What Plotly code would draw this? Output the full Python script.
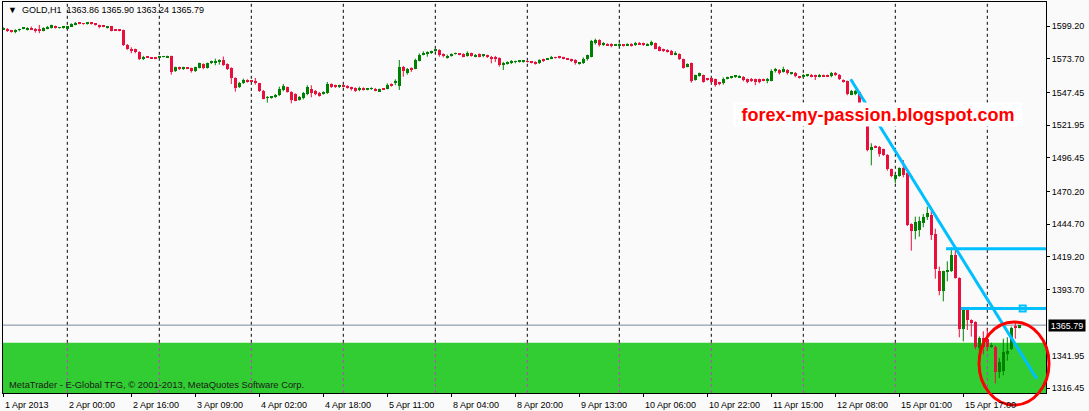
import numpy as np
import plotly.graph_objects as go

# ---------------- data (GOLD H1) ----------------
open_ = [
1596.8,1597.3,1595.8,1594.7,1596.3,1597.3,1596.3,1597.8,1596.8,1596.8,
1595.8,1597.3,1597.8,1599.4,1597.8,1597.8,1597.6,1598.9,1600.4,1601.7,
1601.5,1601.0,1602.3,1601.0,1600.2,1599.4,1597.8,1599.1,1596.5,1596.3,
1596.3,1584.8,1581.7,1581.2,1579.1,1573.4,1575.5,1574.9,1574.7,1574.9,
1575.2,1574.9,1576.0,1564.0,1567.4,1565.6,1566.9,1566.6,1564.5,1566.9,
1570.0,1566.3,1570.2,1570.8,1571.3,1572.8,1569.7,1566.6,1558.8,1551.5,
1554.6,1557.2,1556.7,1556.7,1554.6,1548.9,1543.2,1543.2,1543.7,1545.3,
1549.4,1551.5,1547.9,1546.3,1541.6,1543.2,1546.3,1550.5,1548.9,1547.3,
1546.3,1547.3,1554.1,1553.1,1551.5,1553.6,1552.5,1551.5,1551.0,1549.4,
1551.0,1549.4,1550.2,1550.5,1548.4,1550.5,1550.5,1554.1,1555.1,1552.5,
1567.1,1562.4,1566.1,1566.1,1572.3,1577.0,1578.0,1578.0,1580.1,1580.7,
1577.0,1574.9,1576.0,1577.5,1577.5,1577.5,1576.0,1578.0,1575.4,1577.5,
1576.5,1576.5,1575.4,1575.4,1574.4,1569.2,1570.2,1570.8,1571.3,1571.3,
1571.5,1571.8,1571.5,1571.3,1570.2,1573.4,1573.4,1573.9,1574.9,1575.4,
1574.9,1573.9,1573.4,1572.8,1569.7,1570.2,1573.4,1575.4,1585.9,1588.5,
1584.8,1585.3,1585.3,1584.3,1584.3,1584.8,1584.3,1585.3,1584.3,1585.9,
1585.9,1584.3,1584.8,1585.9,1583.3,1581.2,1580.7,1580.1,1577.0,1577.5,
1573.4,1567.6,1570.2,1557.2,1560.4,1560.9,1558.3,1558.8,1557.7,1555.1,
1554.6,1558.3,1558.8,1559.8,1559.3,1559.8,1557.7,1558.3,1557.7,1557.7,
1557.5,1556.2,1556.7,1564.0,1565.0,1563.5,1565.0,1561.9,1563.0,1559.8,
1559.8,1560.9,1561.4,1560.9,1559.8,1560.9,1560.9,1560.3,1562.4,1561.4,
1557.2,1556.2,1545.8,1546.3,1547.5,1530.0,1528.0,1502.6,1505.7,1505.2,
1503.1,1498.9,1487.5,1479.6,1482.3,1488.5,1484.9,1444.8,1439.6,1440.1,
1445.8,1450.0,1451.5,1437.0,1408.3,1392.7,1407.3,1407.8,1420.8,1402.6,
1363.0,1378.1,1369.8,1368.2,1347.7,1355.5,1355.0,1349.0,1349.0,1329.5,
1329.7,1343.0,1346.9,1364.5,1363.86]

high = [
1598.4,1597.8,1596.3,1596.8,1597.3,1598.4,1598.4,1598.9,1597.8,1600.2,
1598.4,1599.4,1600.4,1599.7,1598.6,1598.9,1599.4,1601.5,1602.5,1602.3,
1601.7,1602.5,1602.5,1601.5,1600.4,1600.2,1599.4,1599.4,1596.8,1596.8,
1596.5,1585.3,1582.7,1581.7,1579.6,1576.0,1575.7,1575.2,1575.2,1576.0,
1576.0,1576.2,1576.2,1567.6,1567.6,1567.6,1567.1,1566.9,1567.6,1570.8,
1570.2,1570.8,1572.3,1573.9,1573.4,1575.5,1570.2,1567.1,1559.3,1555.7,
1558.3,1557.8,1557.2,1558.8,1554.9,1549.4,1544.7,1544.7,1546.3,1552.0,
1554.1,1552.0,1548.4,1546.8,1544.7,1547.9,1553.1,1553.1,1549.4,1547.9,
1548.4,1555.7,1554.6,1553.6,1553.6,1554.1,1553.1,1552.0,1551.5,1552.0,
1551.5,1551.0,1551.5,1551.0,1550.5,1551.0,1554.6,1554.6,1557.7,1572.8,
1568.2,1566.6,1567.1,1573.9,1578.0,1579.6,1579.6,1580.1,1581.7,1581.2,
1578.0,1577.0,1578.0,1578.6,1577.8,1578.0,1579.6,1578.6,1577.5,1578.0,
1577.5,1577.0,1576.0,1576.0,1574.9,1571.3,1571.8,1572.8,1572.3,1572.8,
1572.3,1572.3,1571.8,1571.8,1573.4,1573.9,1574.4,1576.0,1575.4,1576.0,
1575.4,1574.4,1573.9,1573.4,1571.3,1574.9,1577.0,1588.5,1589.5,1589.0,
1586.9,1585.9,1585.9,1584.8,1585.9,1585.3,1585.9,1585.9,1586.9,1586.9,
1586.4,1585.9,1587.9,1586.4,1583.8,1581.7,1581.2,1580.7,1579.6,1578.0,
1573.9,1570.2,1570.8,1561.4,1563.0,1561.4,1558.8,1559.3,1558.3,1555.7,
1559.3,1559.8,1560.3,1560.9,1560.9,1560.3,1558.3,1558.8,1558.3,1558.3,
1558.3,1558.8,1565.6,1566.6,1565.6,1567.6,1565.6,1563.5,1563.5,1560.3,
1561.9,1561.9,1561.9,1561.4,1561.9,1561.4,1561.4,1563.5,1563.5,1561.9,
1557.7,1556.7,1549.4,1549.4,1548.0,1532.0,1529.0,1507.8,1506.2,1505.7,
1503.6,1499.4,1488.0,1484.3,1489.0,1494.7,1485.4,1445.3,1450.5,1450.5,
1452.6,1458.3,1455.2,1441.1,1411.5,1408.3,1415.6,1426.5,1424.5,1403.1,
1378.6,1378.6,1370.3,1368.8,1357.0,1361.0,1363.0,1352.0,1350.0,1340.1,
1355.2,1356.3,1364.6,1367.7,1365.90]

low = [
1596.3,1594.7,1594.2,1593.7,1595.2,1596.8,1595.8,1596.3,1594.2,1593.7,
1595.2,1596.8,1597.3,1597.3,1597.3,1597.3,1597.0,1598.6,1599.9,1600.7,
1600.4,1600.4,1600.4,1599.7,1597.6,1598.4,1597.3,1595.2,1595.8,1595.2,
1583.8,1580.7,1578.1,1578.1,1572.8,1572.8,1574.4,1573.9,1573.4,1574.4,
1574.9,1574.4,1561.4,1563.5,1565.0,1565.0,1565.6,1563.0,1563.5,1566.3,
1565.6,1566.1,1569.7,1568.7,1569.2,1568.2,1565.0,1554.1,1548.1,1551.0,
1554.1,1555.1,1555.7,1553.6,1547.9,1542.1,1539.5,1542.6,1543.2,1544.7,
1548.4,1547.3,1539.0,1540.6,1541.1,1542.1,1545.3,1543.7,1545.3,1544.2,
1545.8,1546.3,1551.0,1551.0,1551.0,1551.5,1550.5,1548.9,1547.9,1548.4,
1548.9,1549.2,1549.4,1548.4,1547.9,1549.4,1549.9,1552.0,1553.1,1549.4,
1559.8,1561.4,1563.5,1565.6,1571.8,1576.5,1575.4,1577.5,1579.1,1575.4,
1574.9,1573.9,1575.4,1577.0,1576.5,1574.9,1575.4,1575.4,1574.9,1574.9,
1574.9,1574.4,1570.2,1571.3,1567.6,1565.0,1569.2,1569.7,1570.2,1570.8,
1570.8,1570.8,1570.2,1569.2,1569.7,1571.3,1572.8,1573.4,1573.9,1573.9,
1573.4,1572.8,1571.3,1569.2,1569.2,1569.7,1572.3,1574.9,1584.8,1583.3,
1583.8,1583.8,1582.7,1583.8,1583.3,1583.3,1583.8,1583.3,1583.8,1584.8,
1583.8,1583.8,1583.8,1581.2,1579.6,1579.1,1578.6,1576.5,1576.5,1572.8,
1566.1,1567.1,1555.1,1556.7,1559.8,1555.1,1556.7,1554.6,1552.0,1553.1,
1553.6,1557.7,1558.3,1558.8,1558.8,1556.2,1554.6,1555.7,1553.1,1554.6,
1556.2,1554.6,1556.2,1563.0,1561.4,1563.0,1561.4,1561.4,1559.3,1558.3,
1558.8,1559.8,1559.3,1557.2,1559.3,1559.8,1559.8,1559.3,1560.3,1557.2,
1555.1,1545.3,1545.3,1545.3,1524.5,1526.5,1501.5,1490.6,1504.1,1497.3,
1497.9,1486.4,1481.2,1476.5,1481.7,1481.2,1443.2,1423.9,1432.8,1434.9,
1442.2,1447.9,1432.3,1402.1,1389.1,1384.4,1400.0,1407.3,1402.1,1356.3,
1353.1,1362.0,1356.8,1346.9,1336.0,1343.0,1345.5,1348.0,1320.3,1324.5,
1326.6,1338.0,1346.4,1355.2,1363.24]

close = [
1597.8,1595.2,1594.7,1596.3,1596.8,1597.6,1597.8,1596.8,1595.2,1595.2,
1597.8,1598.9,1599.9,1597.8,1598.1,1598.6,1599.1,1601.0,1602.0,1601.2,
1601.0,1602.3,1600.7,1600.2,1598.4,1598.9,1599.1,1595.8,1596.0,1595.8,
1584.3,1581.7,1579.6,1579.1,1573.4,1575.5,1574.9,1574.1,1574.1,1575.5,
1575.7,1576.0,1563.5,1567.1,1565.6,1567.4,1566.3,1564.5,1567.1,1570.2,
1566.6,1570.2,1571.8,1572.3,1572.8,1569.2,1566.1,1558.8,1551.0,1554.6,
1557.2,1555.7,1556.2,1554.6,1548.9,1542.6,1543.7,1544.2,1545.3,1550.5,
1552.5,1547.9,1541.6,1541.1,1543.7,1546.8,1552.0,1547.3,1546.3,1544.7,
1547.3,1554.1,1552.0,1552.0,1553.1,1552.5,1551.5,1549.9,1548.9,1551.0,
1549.4,1550.5,1550.5,1548.9,1549.9,1549.9,1553.6,1552.5,1555.7,1567.1,
1564.0,1566.1,1565.6,1572.8,1577.0,1578.6,1578.3,1579.6,1580.7,1576.5,
1576.5,1576.0,1577.5,1577.8,1577.0,1575.4,1578.6,1576.0,1577.0,1575.4,
1576.7,1574.9,1573.9,1573.9,1569.2,1570.8,1571.3,1571.8,1571.5,1572.1,
1571.8,1571.3,1570.8,1569.7,1572.8,1571.8,1574.1,1575.4,1574.4,1574.4,
1573.9,1573.4,1571.8,1570.2,1570.8,1573.9,1576.5,1587.4,1588.5,1584.3,
1585.1,1584.3,1583.8,1584.6,1584.8,1583.8,1585.3,1583.8,1586.4,1585.3,
1584.3,1585.3,1586.9,1581.7,1580.1,1579.6,1579.1,1577.0,1578.6,1573.4,
1566.6,1569.7,1556.2,1560.9,1562.4,1555.7,1557.2,1555.7,1553.1,1554.1,
1558.3,1559.3,1559.8,1560.1,1560.3,1557.2,1555.7,1556.7,1555.7,1556.2,
1557.0,1558.3,1564.5,1565.6,1563.0,1566.1,1563.0,1563.0,1560.3,1559.3,
1560.9,1561.1,1560.3,1559.8,1561.4,1560.3,1560.3,1563.0,1561.4,1558.3,
1556.2,1546.3,1548.9,1548.9,1530.0,1528.0,1502.6,1505.2,1504.6,1499.4,
1498.4,1487.5,1482.3,1482.8,1488.5,1483.3,1443.7,1439.6,1446.3,1446.8,
1450.0,1453.1,1435.9,1409.9,1392.7,1407.8,1408.3,1420.3,1402.6,1363.0,
1378.1,1369.8,1367.2,1348.5,1355.5,1349.0,1348.5,1350.0,1329.2,1337.2,
1344.8,1345.9,1363.9,1363.9,1365.79]

# time-axis labels (every 16 bars) and day separators (every 23 bars)
time_label_bars = [0, 16, 32, 48, 64, 80, 96, 112, 128, 144, 160, 176, 192, 208, 224, 240]
time_labels = ["1 Apr 2013", "2 Apr 00:00", "2 Apr 16:00", "3 Apr 09:00", "4 Apr 02:00",
               "4 Apr 18:00", "5 Apr 11:00", "8 Apr 04:00", "8 Apr 20:00", "9 Apr 13:00",
               "10 Apr 06:00", "10 Apr 22:00", "11 Apr 15:00", "12 Apr 08:00",
               "15 Apr 01:00", "15 Apr 17:00"]
day_separator_bars = [16, 39, 62, 85, 108, 131, 154, 177, 200, 223, 246]

price_ticks = [1316.45, 1341.95, 1393.70, 1419.20, 1444.70, 1470.20,
               1496.45, 1521.95, 1547.45, 1573.70, 1599.20]
last_price = 1365.79
header_ohlc = "1363.86 1365.90 1363.24 1365.79"

# analysis objects drawn on the chart
zone_top = 1352.0                       # green support zone upper edge
trend_bars = [211.85, 258.35]           # falling trend line
trend_prices = [1557.8, 1323.9]
level_prices = [1425.5, 1378.7]         # horizontal levels
level_start_bars = [235.7, 239.4]
level_marker_bar = 254.85

# ---------------- styling ----------------
BG = "#FAFAFA"
BULL = "#008000"
BEAR = "#E8103C"
CYAN = "#00BFFF"
FONT = "Liberation Sans, Arial, sans-serif"
XR = [-0.075, 260.675]
YR = [1312.8, 1618.1]

o = np.array(open_); h = np.array(high); l = np.array(low); c = np.array(close)
idx = np.arange(len(c))
up = c >= o
body_base = np.minimum(o, c)
body_h = np.maximum(np.abs(c - o), 0.7)

fig = go.Figure()


def wick_xy(mask):
    xs, ys = [], []
    for i in idx[mask]:
        xs += [int(i), int(i), None]
        ys += [float(l[i]), float(h[i]), None]
    return xs, ys


for mask, col in ((up, BULL), (~up, BEAR)):
    wx, wy = wick_xy(mask)
    fig.add_trace(go.Scatter(x=wx, y=wy, mode="lines", line=dict(color=col, width=1),
                             hoverinfo="skip", showlegend=False))
    fig.add_trace(go.Bar(x=idx[mask], y=body_h[mask], base=body_base[mask], width=0.75,
                         marker=dict(color=col, line=dict(width=0)), showlegend=False))

# level marker (small square on the lower level)
fig.add_trace(go.Scatter(x=[level_marker_bar], y=[level_prices[1]], mode="markers",
                         marker=dict(symbol="square-open", size=6, color=CYAN,
                                     line=dict(color=CYAN, width=2)),
                         showlegend=False, hoverinfo="skip"))

shapes = []
# green zone
shapes.append(dict(type="rect", xref="x", yref="y", x0=XR[0], x1=XR[1], y0=YR[0], y1=zone_top,
                   fillcolor="#32CD32", line=dict(width=0), layer="below"))
# day separators
for b in day_separator_bars:
    shapes.append(dict(type="line", xref="x", yref="y", x0=b, x1=b, y0=zone_top, y1=YR[1],
                       line=dict(color="black", width=1, dash="3px,3px"), layer="below"))
    shapes.append(dict(type="line", xref="x", yref="y", x0=b, x1=b, y0=YR[0], y1=zone_top,
                       line=dict(color="#C040C0", width=1, dash="3px,3px"), layer="below"))
# last price line
shapes.append(dict(type="line", xref="x", yref="y", x0=XR[0], x1=XR[1], y0=last_price, y1=last_price,
                   line=dict(color="#778899", width=1), layer="below"))
# horizontal levels
for p, b in zip(level_prices, level_start_bars):
    shapes.append(dict(type="line", xref="x", yref="y", x0=b, x1=XR[1], y0=p, y1=p,
                       line=dict(color=CYAN, width=3)))
# trend line
shapes.append(dict(type="line", xref="x", yref="y", x0=trend_bars[0], x1=trend_bars[1],
                   y0=trend_prices[0], y1=trend_prices[1], line=dict(color=CYAN, width=3)))
# red ellipse (extends past plot, paper coords so it is not clipped)
shapes.append(dict(type="circle", xref="paper", yref="paper", x0=0.9358, x1=1.0029,
                   y0=-0.0307, y1=0.1816, line=dict(color="#FF0000", width=3)))

annotations = []
for b, t in zip(time_label_bars, time_labels):
    annotations.append(dict(x=b, y=-0.012, xref="x", yref="paper", text=t, showarrow=False,
                            xanchor="left", yanchor="top", xshift=0,
                            font=dict(family=FONT, size=9, color="black")))
annotations.append(dict(x=0.0025, y=0.9795, xref="paper", yref="paper",
                        text="\u25bc  GOLD,H1  " + header_ohlc, showarrow=False,
                        xanchor="left", yanchor="middle",
                        font=dict(family=FONT, size=9, color="black")))
annotations.append(dict(x=0.0035, y=0.0205, xref="paper", yref="paper",
                        text="MetaTrader - E-Global TFG, \u00a9 2001-2013, MetaQuotes Software Corp.",
                        showarrow=False, xanchor="left", yanchor="middle",
                        font=dict(family=FONT, size=9.4, color="#1a1a1a")))
annotations.append(dict(x=1.0017, y=last_price, xref="paper", yref="y",
                        text=f"{last_price:.2f}", showarrow=False, xanchor="left", yanchor="middle",
                        bgcolor="black", width=36, height=11, borderpad=0,
                        font=dict(family=FONT, size=9, color="white")))
annotations.append(dict(x=0.6999, y=0.7133, xref="paper", yref="paper",
                        text="<b>forex-my-passion.blogspot.com</b>", showarrow=False,
                        xanchor="left", yanchor="middle", bgcolor="white",
                        width=288, height=23, borderpad=0,
                        font=dict(family=FONT, size=18, color="#FF0000")))

fig.update_layout(
    width=1089, height=411,
    margin=dict(l=3, r=43, t=2, b=18),
    paper_bgcolor=BG, plot_bgcolor=BG,
    barmode="overlay", bargap=0,
    showlegend=False, hovermode=False,
    shapes=shapes, annotations=annotations,
    xaxis=dict(range=XR, showgrid=False, zeroline=False, showline=True, mirror=True,
               linecolor="black", linewidth=1, ticks="outside", ticklen=3, tickcolor="black",
               tickvals=time_label_bars, showticklabels=False, fixedrange=True),
    yaxis=dict(range=YR, side="right", showgrid=False, zeroline=False, showline=True, mirror=True,
               linecolor="black", linewidth=1, ticks="outside", ticklen=3, tickcolor="black",
               tickvals=price_ticks, ticktext=[f"{v:.2f}" for v in price_ticks],
               tickfont=dict(family=FONT, size=9, color="black"), fixedrange=True),
)

fig.write_html("out.html", config={"displayModeBar": False},
               post_script="document.body.style.margin='0';document.body.style.background='#FAFAFA';")
